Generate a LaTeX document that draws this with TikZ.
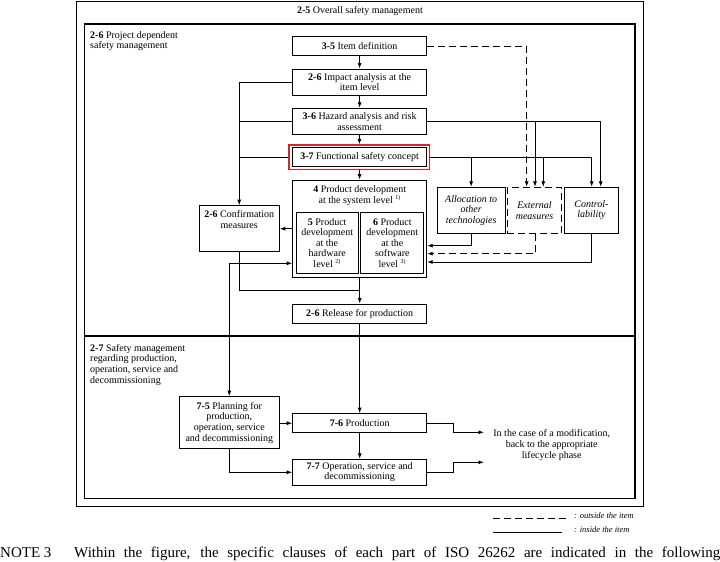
\documentclass[tikz,border=0pt]{standalone}
\usepackage{fontspec}
\setmainfont{Liberation Serif}
\usetikzlibrary{arrows.meta}
\definecolor{isored}{RGB}{214,38,45}
\tikzset{
  box/.style={draw, line width=1pt, inner sep=1pt, align=center, font=\fontsize{10}{10.6}\selectfont},
  boxtext/.style={inner sep=0pt, align=center, font=\fontsize{10}{10.6}\selectfont},
  ibox/.style={box, font=\fontsize{10}{10.6}\selectfont\itshape},
  conn/.style={line width=0.85pt},
  arr/.style={conn, -{Latex[length=5.5pt,width=4pt]}},
  dsh/.style={dash pattern=on 7pt off 4pt},
  framebox/.style={draw, line width=1.2pt},
  lbl/.style={inner sep=0pt, align=left, font=\fontsize{10}{10.6}\selectfont},
  legend/.style={inner sep=0pt, font=\fontsize{8.5}{9}\selectfont\itshape},
}
\newcommand{\sx}[1]{\textsuperscript{\fontsize{6}{6}\selectfont #1}}
\begin{document}
\begin{tikzpicture}[x=1pt,y=-1pt]
\useasboundingbox[fill=white] (0,0) rectangle (720,562);

% frames
\draw[framebox] (76.5,1.5) rectangle (643.3,506.7);
\draw[framebox] (84.3,24) rectangle (635,336);
\draw[framebox] (84.3,336) rectangle (635,498.3);
\node[boxtext] (t25) at (360,11) {\textbf{2-5} Overall safety management};
\node[lbl, anchor=north west] (t26) at (90,31) {\textbf{2-6} Project dependent\\safety management};
\node[lbl, anchor=north west] (t27) at (90,344) {\textbf{2-7} Safety management\\regarding production,\\operation, service and\\decommissioning};

% central column
\node[box, minimum width=134pt, minimum height=19pt] (b35) at (359.6,46.2) {\textbf{3-5} Item definition};
\node[box, minimum width=134pt, minimum height=26pt] (b26i) at (359.6,82) {\textbf{2-6} Impact analysis at the\\item level};
\node[box, minimum width=134pt, minimum height=26pt] (b36) at (359.6,121.3) {\textbf{3-6} Hazard analysis and risk\\assessment};
\node[box, minimum width=134pt, minimum height=19pt] (b37) at (359.6,157.2) {\textbf{3-7} Functional safety concept};
\node[draw=isored, line width=1.5pt, minimum width=140.5pt, minimum height=24.2pt, inner sep=0pt] (r37) at (359.3,157.2) {};

\node[box, minimum width=134pt, minimum height=97.3pt] (b4) at (359.7,228.7) {};
\node[boxtext] (t4) at (359.7,195.6) {\textbf{4} Product development\\at the system level \sx{1)}};
\node[box, minimum width=62.3pt, minimum height=61pt] (b5) at (327.2,242.8) {\textbf{5} Product\\development\\at the\\hardware\\level \sx{2)}};
\node[box, minimum width=62.7pt, minimum height=61pt] (b6) at (392.3,242.8) {\textbf{6} Product\\development\\at the\\software\\level \sx{3)}};

\node[box, minimum width=80.3pt, minimum height=46pt] (conf) at (239.2,228.7) {};
\node[boxtext] (tconf) at (239.2,219.8) {\textbf{2-6} Confirmation\\measures};

\node[ibox, minimum width=67.7pt, minimum height=46pt] (alloc) at (471.2,210.3) {Allocation to\\other\\technologies};
\node[ibox, dsh, minimum width=54.4pt, minimum height=46pt] (ext) at (534.5,210.3) {External\\measures};
\node[ibox, minimum width=54.4pt, minimum height=46pt] (ctrl) at (591.5,210.3) {Control-\\lability};

\node[box, minimum width=134pt, minimum height=19.3pt] (rel) at (359.7,313.7) {\textbf{2-6} Release for production};

\node[box, minimum width=100pt, minimum height=52.3pt] (b75) at (229.3,422.8) {\textbf{7-5} Planning for\\production,\\operation, service\\and decommissioning};
\node[box, minimum width=134pt, minimum height=19pt] (b76) at (359.7,423.2) {\textbf{7-6} Production};
\node[box, minimum width=134pt, minimum height=26pt] (b77) at (359.7,472.3) {\textbf{7-7} Operation, service and\\decommissioning};

\node[boxtext] (mod) at (551.7,445) {In the case of a modification,\\back to the appropriate\\lifecycle phase};

% central arrows
\draw[arr] (b35.south) -- (b26i.north);
\draw[arr] (b26i.south) -- (b36.north);
\draw[arr] (b36.south) -- (r37.north);
\draw[arr] (r37.south) -- (b4.north);

% left trunk to confirmation measures
\draw[arr] (b26i.west) -| (conf.north);
\draw[conn] (b36.west) -- (b36.west -| conf.north);
\draw[conn] (r37.west) -- (r37.west -| conf.north);
\draw[arr] (b4.west) -- (conf.east);

% planning link
\coordinate (j75) at (229.3,263.3);
\draw[arr] (j75) -- (j75 -| b4.west);
\draw[arr] (j75) -- (b75.north);

% release
\coordinate (jrel) at (359.7,290.7);
\draw[conn] (conf.south) |- (jrel);
\draw[arr] (b4.south) -- (rel.north);
\draw[arr] (rel.south) -- (b76.north);
\draw[arr] (b76.south) -- (b77.north);
\draw[arr] (b75.east |- b76.west) -- (b76.west);
\draw[arr] (b75.south) |- (b77.west);

% modification outputs
\coordinate (m1) at (484,432.3);
\coordinate (m2) at (484,462.3);
\draw[arr] (b76.east) -- (453.3,0 |- b76.east) |- (m1);
\draw[arr] (b77.east) -- (453.3,0 |- b77.east) |- (m2);

% right side inputs
\draw[arr, dsh] (b35.east) -| (526.7,0 |- ext.north);
\draw[arr] (b36.east) -| (600.7,0 |- ctrl.north);
\draw[arr] (535,0 |- b36.east) -- (535,0 |- ext.north);
\draw[arr] (r37.east) -| (591.7,0 |- ctrl.north);
\draw[arr] (alloc.north |- r37.east) -- (alloc.north);
\draw[arr] (543.3,0 |- r37.east) -- (543.3,0 |- ext.north);

% right side outputs
\coordinate (ya) at (0,245.7);
\coordinate (ye) at (0,253.7);
\coordinate (yc) at (0,262);
\draw[arr] (alloc.south) |- (b4.east |- ya);
\draw[arr, dsh] (535,0 |- ext.south) |- (b4.east |- ye);
\draw[arr] (591.7,0 |- ctrl.south) |- (b4.east |- yc);

% legend
\coordinate (l1a) at (493.3,518.3);
\coordinate (l1b) at (570,518.3);
\coordinate (l2a) at (493.3,532.3);
\coordinate (l2b) at (562,532.3);
\draw[line width=1.1pt, dsh] (l1a) -- (l1b);
\draw[line width=1.1pt] (l2a) -- (l2b);
\node[legend, anchor=west] (lt1) at (574,516) {: outside the item};
\node[legend, anchor=west] (lt2) at (574,530) {: inside the item};

% note
\node[inner sep=0pt, anchor=base west, font=\fontsize{15}{15}\selectfont] (note) at (0,557) {NOTE 3};
\node[inner sep=0pt, anchor=base west, font=\fontsize{15}{15}\selectfont] (notetext) at (74,557) {\hbox to 646pt{Within the figure, the specific clauses of each part of ISO 26262 are indicated in the following}};
\end{tikzpicture}
\end{document}
